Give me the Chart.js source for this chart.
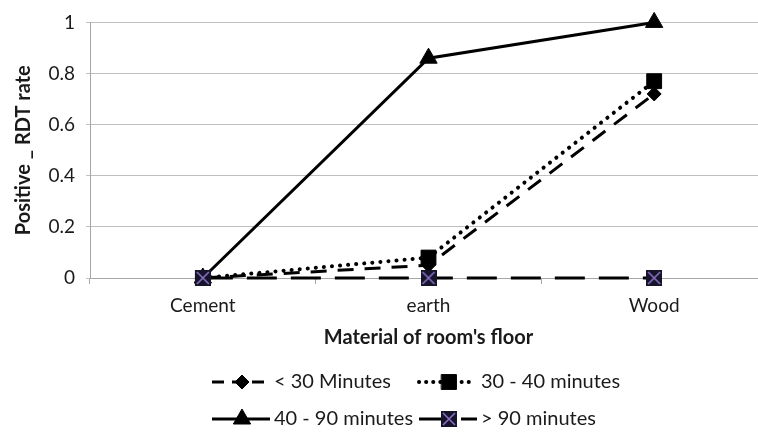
<!DOCTYPE html>
<html>
<head>
<meta charset="utf-8">
<script src="https://cdn.jsdelivr.net/npm/chart.js@4/dist/chart.umd.min.js"></script>
<style>
  html, body { margin: 0; padding: 0; background: #fff; overflow: hidden; }
  #wrap { width: 832px; height: 433px; }
</style>
</head>
<body>
<div id="wrap"><canvas id="rdtChart" width="832" height="433"></canvas></div>
<script>
// values
const categories = ['Cement', 'earth', 'Wood'];
const under30 = [0, 0.05, 0.72];
const from30to40 = [0, 0.08, 0.77];
const from40to90 = [0, 0.86, 1];
const over90 = [0, 0, 0];
const yTicks = [0, 0.2, 0.4, 0.6, 0.8, 1];
const seriesLabels = ['< 30 Minutes', '30 - 40 minutes', '40 - 90 minutes', '> 90 minutes'];

const FONT = 'Lato, "Open Sans", sans-serif';
const TEXT = '#1a1a1a';

// square with a purple cross, used as point style for the > 90 series
const crossBox = document.createElement('canvas');
crossBox.width = 16;
crossBox.height = 16;
(function () {
    const c = crossBox.getContext('2d');
    c.fillStyle = '#15142a';
    c.fillRect(0, 0, 16, 16);
    c.strokeStyle = '#8a70c4';
    c.lineWidth = 1.6;
    c.beginPath();
    c.moveTo(2, 2); c.lineTo(14, 14);
    c.moveTo(14, 2); c.lineTo(2, 14);
    c.stroke();
})();

const datasets = [
    {
        label: seriesLabels[0], data: under30,
        borderDash: [16, 11], legendDash: [12, 8], pointStyle: 'rectRot', pointRadius: 7, order: 2
    },
    {
        label: seriesLabels[1], data: from30to40,
        borderDash: [0.1, 8], legendDash: [0.1, 7], borderCapStyle: 'round', borderWidth: 4,
        pointStyle: 'rect', pointRadius: 10.5, order: 3, legendLen: 52
    },
    {
        label: seriesLabels[2], data: from40to90,
        pointStyle: 'triangle', pointRadius: 10, order: 4
    },
    {
        label: seriesLabels[3], data: over90,
        borderDash: [30, 14], legendDash: [30, 12], pointStyle: crossBox, order: 1
    }
].map(ds => Object.assign({
    borderColor: '#000',
    backgroundColor: '#000',
    pointBackgroundColor: '#000',
    pointBorderColor: '#000',
    pointBorderWidth: 1,
    borderWidth: 3,
    tension: 0,
    clip: false
}, ds));

// legend in two rows, like the original
const legendItems = [
    { ds: 0, x: 212, y: 382 },
    { ds: 1, x: 419, y: 382 },
    { ds: 2, x: 212, y: 419 },
    { ds: 3, x: 419, y: 419 }
];

const twoRowLegend = {
    id: 'twoRowLegend',
    afterDraw(chart) {
        const ctx = chart.ctx;
        legendItems.forEach(item => {
            const ds = chart.data.datasets[item.ds];
            const len = 58;
            ctx.save();
            ctx.strokeStyle = '#000';
            ctx.lineWidth = ds.borderWidth;
            ctx.lineCap = ds.borderCapStyle || 'butt';
            ctx.setLineDash(ds.legendDash || []);
            ctx.beginPath();
            ctx.moveTo(item.x, item.y);
            ctx.lineTo(item.x + (ds.legendLen || len), item.y);
            ctx.stroke();
            ctx.setLineDash([]);
            ctx.fillStyle = '#000';
            ctx.strokeStyle = '#000';
            ctx.lineWidth = 1;
            Chart.helpers.drawPoint(ctx, {
                pointStyle: ds.pointStyle,
                radius: ds.pointRadius || 7,
                rotation: 0,
                borderWidth: 1
            }, item.x + 30, item.y);
            ctx.fillStyle = TEXT;
            ctx.font = '20px ' + FONT;
            ctx.textBaseline = 'middle';
            ctx.textAlign = 'left';
            ctx.fillText(ds.label, item.x + len + 4, item.y);
            ctx.restore();
        });
    }
};

new Chart(document.getElementById('rdtChart'), {
    type: 'line',
    data: { labels: categories, datasets: datasets },
    options: {
        responsive: false,
        animation: false,
        layout: { padding: { top: 18, right: 65, bottom: 75, left: 0 } },
        plugins: {
            legend: { display: false },
            tooltip: { enabled: false }
        },
        scales: {
            x: {
                offset: true,
                grid: { offset: true, drawOnChartArea: false, color: '#a6a6a6', tickLength: 6 },
                border: { color: '#a6a6a6' },
                ticks: { color: TEXT, font: { family: FONT, size: 19 }, padding: 10 },
                title: {
                    display: true, text: "Material of room's floor", color: TEXT,
                    font: { family: FONT, size: 20, weight: 'bold' }, padding: { top: 4, bottom: 8 }
                },
                afterFit(scale) { scale.height = 80; }
            },
            y: {
                min: 0, max: 1,
                afterBuildTicks(scale) { scale.ticks = yTicks.map(v => ({ value: v })); },
                grid: { color: '#bfbfbf', tickLength: 4 },
                border: { color: '#a6a6a6' },
                ticks: {
                    color: TEXT, font: { family: FONT, size: 19 }, padding: 11,
                    callback: v => String(Math.round(v * 10) / 10)
                },
                title: {
                    display: true, text: 'Positive _ RDT rate', color: TEXT,
                    font: { family: FONT, size: 20, weight: 'bold' }, padding: { top: 12, bottom: 0 }
                },
                afterFit(scale) { scale.width = 90; }
            }
        }
    },
    plugins: [twoRowLegend]
});
</script>
</body>
</html>
